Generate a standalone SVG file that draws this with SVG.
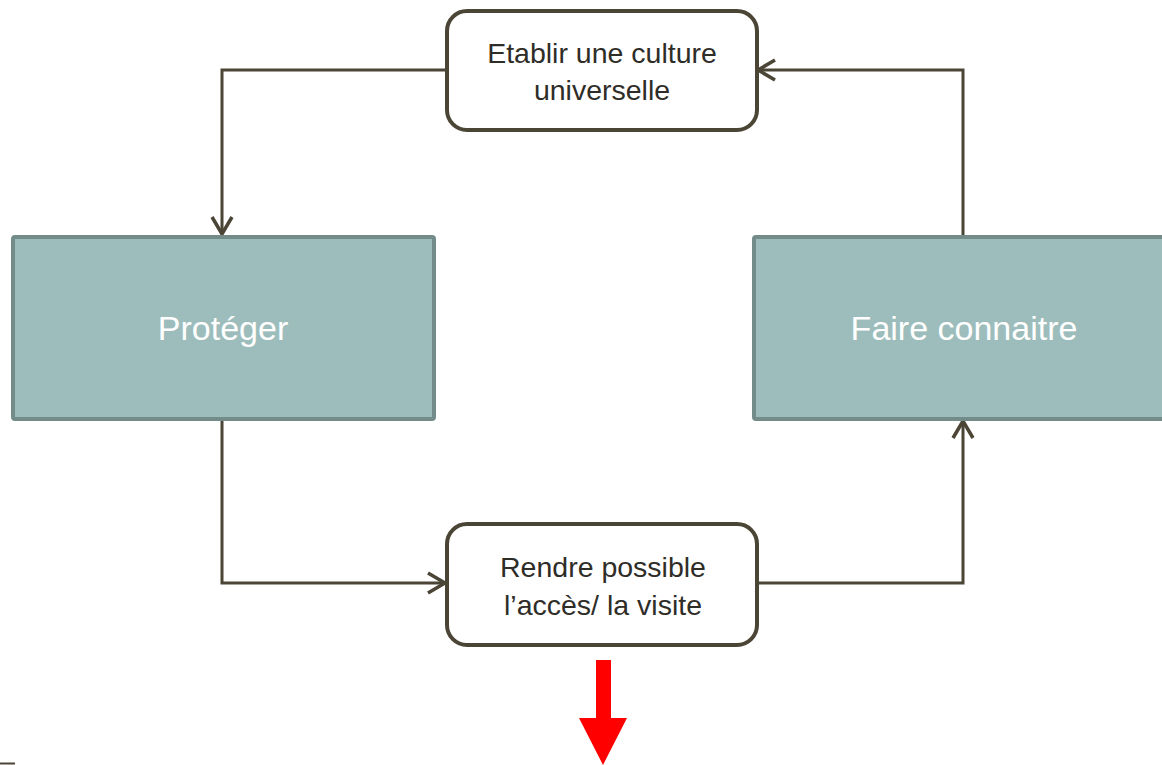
<svg xmlns="http://www.w3.org/2000/svg" width="1162" height="765" viewBox="0 0 1162 765">
<style>
.rbox{fill:#ffffff;stroke:#4b4536;stroke-width:4}
.tbox{fill:#9dbdbc;stroke:#738b89;stroke-width:4}
.dt{font-family:"Liberation Sans",Arial,sans-serif;font-size:28.5px;fill:#2f2d28;text-anchor:middle}
.wt{font-family:"Liberation Sans",Arial,sans-serif;font-size:34px;fill:#ffffff;text-anchor:middle}
.conn{fill:none;stroke:#4b4536;stroke-width:3}
</style>
<defs>
<marker id="arr" viewBox="0 0 22 24" refX="19" refY="12" markerWidth="22" markerHeight="24" markerUnits="userSpaceOnUse" orient="auto">
<path d="M2,2 L19,12 L2,22" fill="none" stroke="#4b4536" stroke-width="3.5"/>
</marker>
</defs>
<rect x="0" y="0" width="1162" height="765" fill="#ffffff"/>
<g id="connectors">
<polyline class="conn" points="446,70 222,70 222,234" marker-end="url(#arr)"/>
<polyline class="conn" points="222,420 222,583 445,583" marker-end="url(#arr)"/>
<polyline class="conn" points="757,583 963,583 963,421" marker-end="url(#arr)"/>
<polyline class="conn" points="963,236 963,70 758,70" marker-end="url(#arr)"/>
</g>
<g id="node-etablir">
<rect class="rbox" x="447" y="11" width="310" height="119" rx="20"/>
<text class="dt" x="602" y="63">Etablir une culture</text>
<text class="dt" x="602" y="100">universelle</text>
</g>
<g id="node-proteger">
<rect class="tbox" x="13" y="237" width="421" height="182" rx="2"/>
<text class="wt" x="223" y="340">Protéger</text>
</g>
<g id="node-faire">
<rect class="tbox" x="754" y="237" width="420" height="182" rx="2"/>
<text class="wt" x="964" y="340">Faire connaitre</text>
</g>
<g id="node-rendre">
<rect class="rbox" x="447" y="524" width="310" height="121" rx="20"/>
<text class="dt" x="603" y="577">Rendre possible</text>
<text class="dt" x="603" y="615">l’accès/ la visite</text>
</g>
<g id="red-arrow">
<polygon points="596,660 611,660 611,718 627,718 603,765 579,718 596,718" fill="#ff0000"/>
</g>
<line x1="0" y1="763.5" x2="15" y2="763.5" stroke="#4b4536" stroke-width="2"/>
</svg>
